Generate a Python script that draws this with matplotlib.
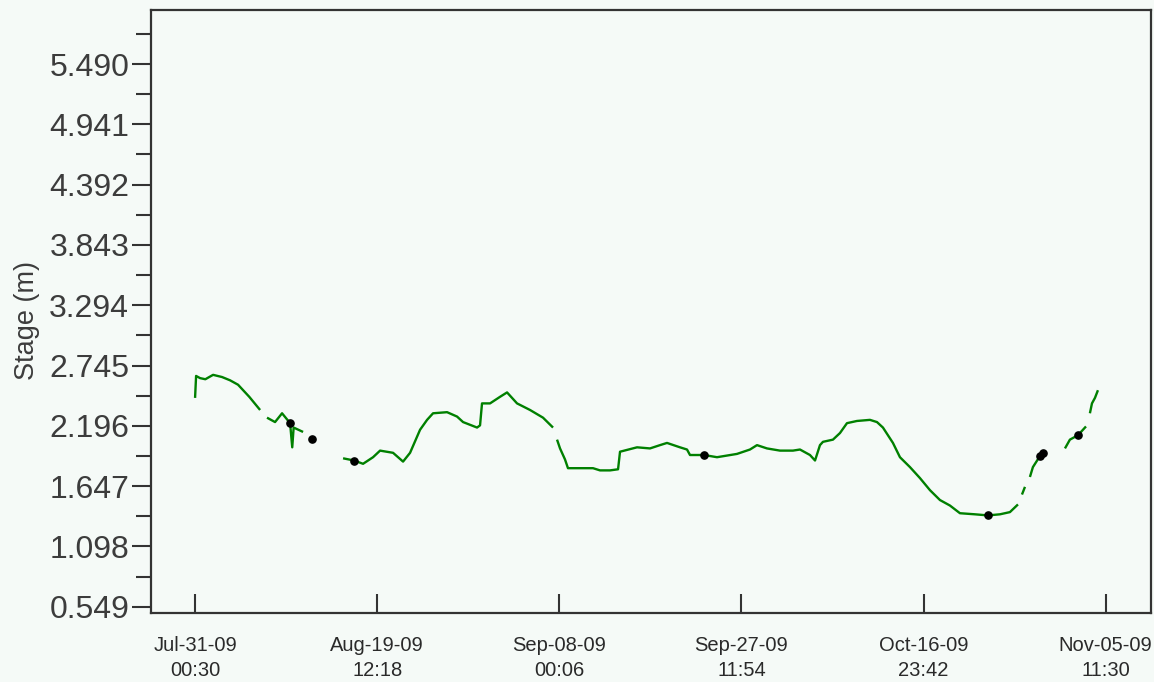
import numpy as np
import pandas as pd
import matplotlib
matplotlib.use("Agg")
from matplotlib import pyplot as plt

# stage record, days after the first reading; nan marks missing data
start = pd.Timestamp("2009-07-31 00:30")
day = [0.00, 0.11, 0.54, 1.10, 1.93, 2.89, 3.75, 4.60, 5.80, 6.96, 7.30,
       7.70, 8.56, 9.31, 10.17, 10.40, 10.55, 11.56, 12.00, 12.52, 13.10,
       13.70, 14.20, 14.66, 15.20, 15.84, 17.01, 17.98, 19.05, 19.80, 21.19,
       22.26, 23.01, 24.08, 24.83, 25.47, 26.97, 28.04, 28.68, 30.18, 30.50,
       30.71, 31.57, 32.64, 33.39, 34.46, 35.85, 37.24, 38.31, 38.50, 38.74,
       39.06, 39.59, 39.91, 42.59, 43.34, 44.41, 45.27, 45.48, 47.30, 48.69,
       49.76, 50.51, 51.90, 52.65, 52.97, 54.47, 55.86, 58.00, 59.39, 60.14,
       61.21, 62.60, 63.99, 64.74, 65.81, 66.35, 66.88, 67.20, 68.27, 69.02,
       69.77, 70.84, 72.23, 72.98, 73.62, 74.69, 75.44, 76.51, 77.58, 78.65,
       79.72, 80.79, 81.86, 83.47, 84.86, 86.14, 87.21, 88.07, 88.30, 88.50,
       88.82, 89.10, 89.35, 89.67, 90.42, 90.74, 92.00, 93.10, 93.63, 94.49,
       95.35, 95.55, 95.77, 95.99, 96.31, 96.63, 97.00, 97.27]
stage = [2.45, 2.65, 2.63, 2.62, 2.66, 2.64, 2.61, 2.57, 2.46, 2.34, np.nan,
         2.27, 2.23, 2.31, 2.22, 2.00, 2.18, 2.14, np.nan, 2.08, np.nan,
         1.97, np.nan, 1.91, np.nan, 1.90, 1.88, 1.85, 1.91, 1.97, 1.95,
         1.87, 1.95, 2.16, 2.25, 2.31, 2.32, 2.28, 2.23, 2.18, 2.20,
         2.40, 2.40, 2.46, 2.50, 2.40, 2.34, 2.27, 2.18, np.nan, 2.07,
         1.99, 1.89, 1.81, 1.81, 1.79, 1.79, 1.80, 1.96, 2.00, 1.99,
         2.02, 2.04, 2.00, 1.98, 1.93, 1.93, 1.91, 1.94, 1.98, 2.02,
         1.99, 1.97, 1.97, 1.98, 1.93, 1.88, 2.02, 2.05, 2.07, 2.13,
         2.22, 2.24, 2.25, 2.23, 2.18, 2.04, 1.91, 1.82, 1.72, 1.61,
         1.52, 1.47, 1.40, 1.39, 1.38, 1.39, 1.41, 1.48, np.nan, 1.57,
         1.64, np.nan, 1.73, 1.82, 1.92, 1.95, np.nan, 1.99, 2.07, 2.11,
         2.19, np.nan, 2.31, 2.40, 2.45, 2.52, np.nan, 2.61]

# manual field readings
obs_day = [10.17, 12.52, 17.01, 54.47, 84.86, 90.42, 90.74, 94.49]
obs_stage = [2.22, 2.08, 1.88, 1.93, 1.38, 1.92, 1.95, 2.11]

tick_times = ["2009-07-31 00:30", "2009-08-19 12:18", "2009-09-08 00:06",
              "2009-09-27 11:54", "2009-10-16 23:42", "2009-11-05 11:30"]
tick_labels = ["Jul-31-09\n00:30", "Aug-19-09\n12:18", "Sep-08-09\n00:06",
               "Sep-27-09\n11:54", "Oct-16-09\n23:42", "Nov-05-09\n11:30"]
y_ticks = [0.549, 1.098, 1.647, 2.196, 2.745, 3.294, 3.843, 4.392, 4.941, 5.490]

plt.rcParams['font.family'] = ['Liberation Sans', 'DejaVu Sans']
bg = '#F5FAF7'
ink = '#333333'

times = start + pd.to_timedelta(day, unit='D')
obs_times = start + pd.to_timedelta(obs_day, unit='D')

fig = plt.figure(figsize=(11.54, 6.82), dpi=100, facecolor=bg)
ax = fig.add_axes([0.1309, 0.1016, 0.8665, 0.8837], facecolor=bg)

ax.plot(times, stage, color='#008000', lw=1.7, solid_capstyle='butt')
ax.plot(obs_times, obs_stage, 'o', color='black', ms=5.2, zorder=3)

x0 = start - pd.Timedelta(days=4.71)
x1 = pd.Timestamp(tick_times[-1]) + pd.Timedelta(days=4.85)
ax.set_xlim(x0, x1)
ax.set_ylim(0.494, 5.982)

ax.set_xticks(pd.to_datetime(tick_times))
ax.set_xticklabels(tick_labels, fontsize=14.5, color='#2a2a2a', linespacing=1.35)
ax.tick_params(axis='x', direction='in', length=13.7, width=1.5, color=ink, pad=17)

ax.set_yticks(y_ticks)
ax.set_yticklabels([f"{v:.3f}" for v in y_ticks], fontsize=23, color='#3c3c3c')
minor = [v + 0.2745 for v in y_ticks]
ax.set_yticks(minor, minor=True)
ax.tick_params(axis='y', which='major', direction='out', length=13.7, width=1.5, color=ink, pad=2)
ax.tick_params(axis='y', which='minor', direction='out', length=10.8, width=1.5, color=ink)

for s in ax.spines.values():
    s.set_color(ink)
    s.set_linewidth(1.6)

fig.text(27 / 1154, 1 - 321 / 682, "Stage (m)", rotation=90, ha='center', va='center',
         fontsize=19.5, color='#3c3c3c')

fig.savefig("out.png", dpi=100, facecolor=bg)
